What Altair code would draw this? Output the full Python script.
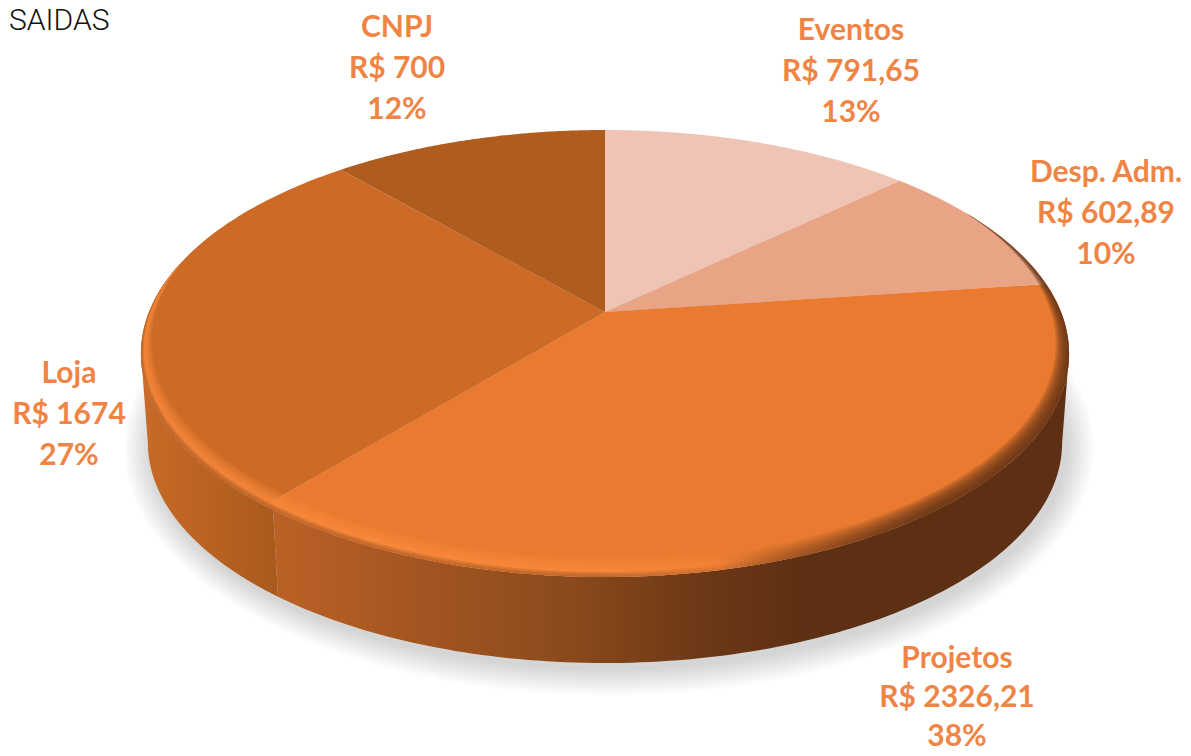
import math
import altair as alt

# ---------- data ----------
categories = ["Eventos", "Desp. Adm.", "Projetos", "Loja", "CNPJ"]
values = [791.65, 602.89, 2326.21, 1674.0, 700.0]
value_labels = ["791,65", "602,89", "2326,21", "1674", "700"]
percents = [13, 10, 38, 27, 12]
slice_colors = ["#f0c4b4", "#e9a385", "#e97a2f", "#cd6a26", "#b05c1f"]

# ---------- layout / style constants ----------
APEX_X, APEX_Y = 605.0, 312.0
B, A, K = 456.0, 215.8, 0.1857     # tilted-disk projection of the pie
DEPTH, BOTTOM_SCALE = 90.0, 0.985
TEXT_COLOR = "#ef8444"
FONT = "Lato"
LABEL_POS = {  # anchor of each label: centre x / first baseline y / line height
    "Eventos": (851, 40, 41), "Desp. Adm.": (1106, 182, 41), "Projetos": (957, 668, 39),
    "Loja": (69, 383, 41), "CNPJ": (397, 37, 41),
}


def disk(theta_deg, r=1.0, drop=0.0, scale=1.0):
    t = math.radians(theta_deg)
    x, y = r * math.sin(t), r * math.cos(t)
    d = 1 + K * y
    return [APEX_X + scale * B * x / d, APEX_Y - scale * A * y / d + drop]


def feature(ring, **props):
    ring = list(ring)
    ring.append(ring[0])
    return {"type": "Feature", "properties": props,
            "geometry": {"type": "Polygon", "coordinates": [ring]}}


def steps(a, b, n=120):
    return [a + (b - a) * i / n for i in range(n + 1)]


def geo(features):
    return alt.Chart(alt.Data(values=features))


total = sum(values)
angles = [0.0]
for v in values:
    angles.append(angles[-1] + v / total * 360)

# --- slices on the top surface
slice_features = []
for i, c in enumerate(categories):
    ring = [[APEX_X, APEX_Y]] + [disk(t) for t in steps(angles[i], angles[i + 1])]
    slice_features.append(feature(ring, name=c))
slices = geo(slice_features).mark_geoshape(strokeWidth=0).encode(
    color=alt.Color("properties.name:N", legend=None,
                    scale=alt.Scale(domain=categories, range=slice_colors))
)

# --- soft shadow under the disk
shadow_features = []
for k in range(14):
    grow = 28 - k * 2
    ring = []
    for t in steps(0, 360, 160):
        p = disk(t, drop=DEPTH, scale=BOTTOM_SCALE)
        ring.append([p[0] + (p[0] - APEX_X) * grow / 460 + 4,
                     p[1] + (p[1] - 353 - DEPTH) * grow / 225 + 5])
    shadow_features.append(feature(ring))
shadow = geo(shadow_features).mark_geoshape(
    strokeWidth=0, fill="#000000", opacity=0.0115)


# --- side wall
def wall(a, b):
    ring = [disk(t) for t in steps(a, b)]
    ring += [disk(t, drop=DEPTH, scale=BOTTOM_SCALE) for t in steps(b, a)]
    return [feature(ring)]


def grad(stops):
    return alt.LinearGradient(
        gradient="linear", x1=0, y1=0, x2=1, y2=0,
        stops=[alt.GradientStop(offset=o, color=c) for o, c in stops])


TANG_R = 100.7
TANG_L = 259.3
SEAM = angles[3] - 1.3
wall_right = geo(wall(TANG_R, SEAM)).mark_geoshape(
    strokeWidth=0,
    fill=grad([(0, "#bb6126"), (0.37, "#8b4a1c"), (0.54, "#6c3816"),
               (0.665, "#5e3013"), (1, "#5e3013")]))
wall_left = geo(wall(SEAM, TANG_L)).mark_geoshape(
    strokeWidth=0, fill=grad([(0, "#c96a28"), (1, "#a85a1d")]))


# --- bevel on the rim
def band(width, a=60.0, b=285.0):
    outer = [disk(t) for t in steps(a, b, 200)]
    inner = []
    for t in steps(b, a, 200):
        s = math.sin((t - a) / (b - a) * math.pi) ** 0.9
        inner.append(disk(t, r=1 - width * s))
    return [feature(outer + inner)]


def rim_layer(width, rgb, alpha, fade):
    c0 = f"rgba({rgb},{alpha})"
    c1 = f"rgba({rgb},0)"
    if fade == "out":
        stops = [(0, c0), (0.5, c0), (0.7, c1), (1, c1)]
    else:
        stops = [(0, c1), (0.62, c1), (0.85, c0), (1, c0)]
    return geo(band(width)).mark_geoshape(strokeWidth=0, fill=grad(stops))


rim = []
for w in [0.062, 0.057, 0.052, 0.047, 0.042, 0.038, 0.034, 0.03, 0.026, 0.022]:
    rim.append(rim_layer(w, "250,138,60", 0.14, "out"))
for w in [0.05, 0.045, 0.04, 0.035, 0.03, 0.025, 0.02, 0.015, 0.01, 0.005]:
    rim.append(rim_layer(w, "94,48,19", 0.18, "in"))
for w in [0.016, 0.012, 0.008, 0.004]:
    rim.append(rim_layer(w, "160,85,32", 0.22, "out"))


# --- text
def label(i):
    x, y, lh = LABEL_POS[categories[i]]
    text = f"{categories[i]}\nR$ {value_labels[i]}\n{percents[i]}%"
    return alt.Chart(alt.Data(values=[{"t": text}])).mark_text(
        font=FONT, fontWeight="bold", fontSize=30, color=TEXT_COLOR,
        align="center", baseline="alphabetic", lineBreak="\n", lineHeight=lh,
    ).encode(x=alt.value(x - 8), y=alt.value(y - 8), text="t:N")


labels = [label(i) for i in range(len(categories))]

title = alt.Chart(alt.Data(values=[{"t": "SAIDAS"}])).mark_text(
    font="Roboto", fontWeight=300, fontSize=30, color="#111111",
    align="left", baseline="alphabetic",
).encode(x=alt.value(1), y=alt.value(22), text="t:N")

chart = alt.layer(
    shadow, wall_right, wall_left, slices, *rim, *labels, title
).properties(
    width=1175, height=740,
    projection=alt.Projection(type="identity", scale=1, translate=[-8, -8]),
    autosize=alt.AutoSizeParams(type="none"),
    padding=0,
).configure_view(stroke=None)

chart.save("out.html", embed_options={"renderer": "svg", "actions": False})
